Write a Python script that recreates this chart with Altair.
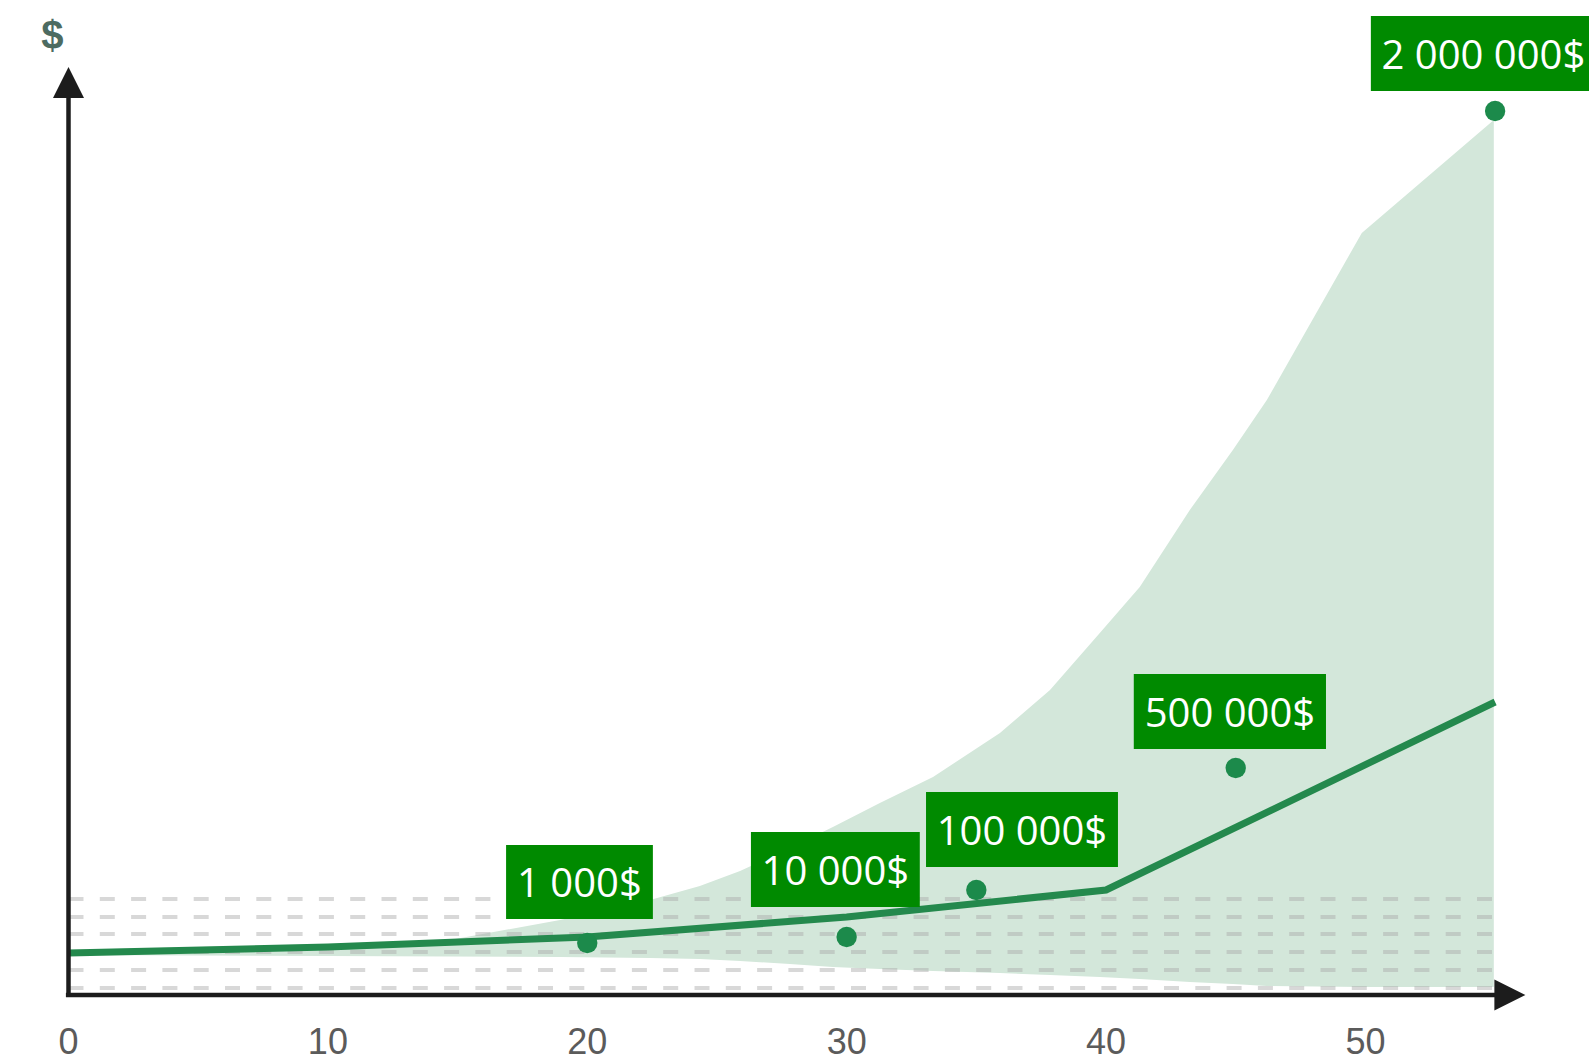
import altair as alt
import pandas as pd

# ---- data (x = years, y = schematic height units) ----
band_x = [0, 10, 14.7, 18.95, 22.42, 24.34, 25.89, 27.81, 29.47, 31.28, 33.33, 35.91,
          37.84, 39.76, 41.3, 43.23, 44.89, 46.2, 49.86, 54.95]
band_upper = [45, 51, 55, 75, 95, 109, 124, 147, 168, 192, 218, 262,
              305, 362, 408, 485, 545, 595, 762, 875]
band_lower = [40, 39, 38.5, 38, 37, 36, 34, 31, 28, 26, 24, 22,
              20, 18, 16, 13, 11, 9, 8, 8]

median_x = [0, 10, 20, 30, 40, 55]
median_y = [42, 48, 58, 78, 105, 293]

point_x = [20, 30, 35, 45, 55]
point_y = [52, 58, 105, 227, 884]

label_text = ["1 000$", "10 000$", "100 000$", "500 000$", "2 000 000$"]
label_x1 = [16.87, 26.31, 33.06, 41.07, 50.21]
label_x2 = [22.53, 32.82, 40.46, 48.48, 58.89]
label_y1 = [76, 88, 128, 246, 904]
label_y2 = [150, 163, 203, 321, 979]

tick_values = [0, 10, 20, 30, 40, 50]
grid_levels = [96, 78, 61, 43, 25, 7]

# ---- tables ----
band_df = pd.DataFrame({"x": band_x, "upper": band_upper, "lower": band_lower})
median_df = pd.DataFrame({"x": median_x, "y": median_y})
points_df = pd.DataFrame({"x": point_x, "y": point_y})
labels_df = pd.DataFrame({"text": label_text, "x1": label_x1, "x2": label_x2,
                          "y1": label_y1, "y2": label_y2})
labels_df["xc"] = (labels_df["x1"] + labels_df["x2"]) / 2
labels_df["yc"] = (labels_df["y1"] + labels_df["y2"]) / 2
ticks_df = pd.DataFrame({"t": tick_values, "label": [str(t) for t in tick_values],
                         "y": [-59] * len(tick_values)})
grid_df = pd.DataFrame({"y": grid_levels, "x1": [0] * len(grid_levels), "x2": [55] * len(grid_levels)})
axes_df = pd.DataFrame({"x1": [0, -0.1], "x2": [0, 55], "y1": [-2, 0], "y2": [900, 0]})
arrows_df = pd.DataFrame({"x": [0, 55.57], "y": [912.5, 0], "dir": ["up", "right"]})
cur_df = pd.DataFrame({"x": [-0.62], "y": [946], "t": ["$"]})

XS = alt.Scale(domain=[-2.641, 58.62], nice=False, zero=False)
YS = alt.Scale(domain=[-68, 995], nice=False, zero=False)

area = alt.Chart(band_df).mark_area(color="#d3e7da", interpolate="linear").encode(
    x=alt.X("x:Q", scale=XS, axis=None),
    y=alt.Y("upper:Q", scale=YS, axis=None),
    y2="lower:Q",
)

grid = alt.Chart(grid_df).mark_rule(color="#a9a9a9", opacity=0.45, strokeWidth=4,
                                    strokeDash=[15, 16.3]).encode(
    x=alt.X("x1:Q", scale=XS, axis=None), x2="x2:Q",
    y=alt.Y("y:Q", scale=YS, axis=None),
)

line = alt.Chart(median_df).mark_line(color="#24894d", strokeWidth=7).encode(
    x=alt.X("x:Q", scale=XS, axis=None),
    y=alt.Y("y:Q", scale=YS, axis=None),
)

points = alt.Chart(points_df).mark_circle(color="#1c8a4b", size=415, opacity=1).encode(
    x=alt.X("x:Q", scale=XS, axis=None),
    y=alt.Y("y:Q", scale=YS, axis=None),
)

axes = alt.Chart(axes_df).mark_rule(color="#1c1c1c", strokeWidth=4.5).encode(
    x=alt.X("x1:Q", scale=XS, axis=None), x2="x2:Q",
    y=alt.Y("y1:Q", scale=YS, axis=None), y2="y2:Q",
)

arrow_up = alt.Chart(arrows_df).transform_filter(alt.datum.dir == "up").mark_point(
    shape="M0,-1L1,1L-1,1Z", filled=True, size=961, color="#1c1c1c", opacity=1, strokeWidth=0
).encode(x=alt.X("x:Q", scale=XS, axis=None), y=alt.Y("y:Q", scale=YS, axis=None))

arrow_right = alt.Chart(arrows_df).transform_filter(alt.datum.dir == "right").mark_point(
    shape="M-1,-1L1,0L-1,1Z", filled=True, size=961, color="#1c1c1c", opacity=1, strokeWidth=0
).encode(x=alt.X("x:Q", scale=XS, axis=None), y=alt.Y("y:Q", scale=YS, axis=None))

boxes = alt.Chart(labels_df).mark_rect(color="#008a00").encode(
    x=alt.X("x1:Q", scale=XS, axis=None), x2="x2:Q",
    y=alt.Y("y1:Q", scale=YS, axis=None), y2="y2:Q",
)

box_text = alt.Chart(labels_df).mark_text(
    color="white", font="Open Sans", fontSize=40, align="center", baseline="alphabetic", dy=15
).encode(
    x=alt.X("xc:Q", scale=XS, axis=None),
    y=alt.Y("yc:Q", scale=YS, axis=None),
    text="text:N",
)

tick_text = alt.Chart(ticks_df).mark_text(
    color="#5b5b5b", font="Liberation Sans", fontSize=36, align="center", baseline="alphabetic"
).encode(
    x=alt.X("t:Q", scale=XS, axis=None),
    y=alt.Y("y:Q", scale=YS, axis=None),
    text="label:N",
)

cur_text = alt.Chart(cur_df).mark_text(
    color="#4d6b61", font="Liberation Sans", fontSize=40, fontWeight="bold",
    align="center", baseline="alphabetic"
).encode(
    x=alt.X("x:Q", scale=XS, axis=None),
    y=alt.Y("y:Q", scale=YS, axis=None),
    text="t:N",
)

chart = alt.layer(
    area, grid, line, points, axes, arrow_up, arrow_right, boxes, box_text, tick_text, cur_text
).properties(
    width=1589, height=1063,
    autosize=alt.AutoSizeParams(type="none"),
    padding=0,
    background="white",
).configure_view(stroke=None)

chart.save("out.html", embed_options={"renderer": "svg", "actions": False})
